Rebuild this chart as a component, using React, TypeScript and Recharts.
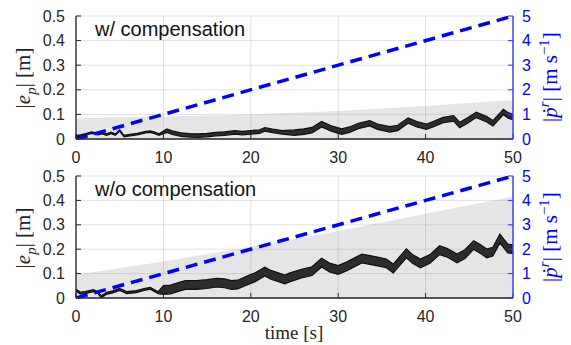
import React from "react";
import { ComposedChart, Area, Line, XAxis, YAxis, CartesianGrid } from "recharts";

// error |e_p| with compensation
const topTimes = [0, 0.5, 1, 1.8, 2.5, 3, 3.5, 4, 4.5, 5, 5.5, 6, 7, 8, 8.5, 9, 9.5, 10.4, 11, 12, 13, 14, 15, 16, 17, 18.2, 19, 20, 21, 21.6, 22.5, 23.6, 25, 26.1, 27, 28.1, 29.2, 30.4, 31.3, 32.3, 33.6, 34.5, 35.9, 36.8, 38, 39, 40.1, 41, 42, 43.2, 43.9, 44.8, 45.8, 47, 47.7, 48.9, 49.5, 50];
const topError = [0.012, 0.014, 0.018, 0.026, 0.02, 0.024, 0.018, 0.025, 0.018, 0.034, 0.012, 0.015, 0.02, 0.028, 0.03, 0.025, 0.018, 0.034, 0.026, 0.018, 0.015, 0.014, 0.016, 0.02, 0.022, 0.027, 0.024, 0.027, 0.03, 0.039, 0.033, 0.027, 0.026, 0.03, 0.036, 0.06, 0.043, 0.03, 0.038, 0.053, 0.064, 0.05, 0.039, 0.045, 0.075, 0.06, 0.05, 0.062, 0.077, 0.084, 0.057, 0.075, 0.098, 0.08, 0.064, 0.11, 0.095, 0.09];
// half thickness of the noisy trace, from each start time on
const topNoiseFrom = [0, 10, 25];
const topNoiseHalf = [0.003, 0.007, 0.011];

// error |e_p| without compensation
const botTimes = [0, 0.5, 1, 2, 2.5, 2.9, 3.5, 4.2, 5, 5.8, 6.9, 7.8, 8.5, 9.4, 10, 10.8, 12, 12.5, 13.8, 15, 16.1, 17, 17.8, 18.5, 19.7, 20.5, 21.6, 22.3, 23.9, 24.5, 25.8, 27, 28.1, 29, 30, 31, 32.7, 33.3, 34.5, 35.5, 36.3, 37, 37.8, 38.5, 39.4, 40.5, 41.6, 42.5, 43.6, 44.5, 45.5, 46.3, 47, 47.7, 48.5, 49.4, 50];
const botError = [0.033, 0.02, 0.022, 0.03, 0.022, 0.005, 0.019, 0.025, 0.035, 0.022, 0.026, 0.035, 0.04, 0.022, 0.033, 0.035, 0.048, 0.053, 0.053, 0.057, 0.063, 0.06, 0.053, 0.055, 0.074, 0.085, 0.108, 0.095, 0.076, 0.085, 0.1, 0.11, 0.145, 0.125, 0.115, 0.13, 0.162, 0.158, 0.15, 0.142, 0.121, 0.15, 0.183, 0.16, 0.142, 0.16, 0.196, 0.185, 0.162, 0.18, 0.217, 0.2, 0.183, 0.19, 0.244, 0.203, 0.2];
const botNoiseFrom = [0, 9.5];
const botNoiseHalf = [0.004, 0.018];

// grey bound
const boundTimes = [0, 10, 20, 30, 40, 50];
const topBound = [0.084, 0.091, 0.1, 0.114, 0.134, 0.158];
const botBound = [0.095, 0.15, 0.21, 0.275, 0.345, 0.415];

// reference speed |p_r dot|
const velTimes = [0, 50];
const velValues = [0, 5];

const xTicks = [0, 10, 20, 30, 40, 50];
const leftTicks = [0, 0.1, 0.2, 0.3, 0.4, 0.5];
const rightTicks = [0, 1, 2, 3, 4, 5];

function buildRows(times: number[], err: number[], noiseFrom: number[], noiseHalf: number[], bound: number[]) {
  const rows = new Map<number, any>();
  const get = (t: number) => {
    if (!rows.has(t)) rows.set(t, { t });
    return rows.get(t);
  };
  times.forEach((t, i) => {
    let h = noiseHalf[0];
    noiseFrom.forEach((f, j) => {
      if (t >= f) h = noiseHalf[j];
    });
    get(t).err = [Math.max(0, err[i] - h), err[i] + h];
  });
  boundTimes.forEach((t, i) => (get(t).bound = bound[i]));
  velTimes.forEach((t, i) => (get(t).vel = velValues[i]));
  return [...rows.values()].sort((a, b) => a.t - b.t);
}

const topRows = buildRows(topTimes, topError, topNoiseFrom, topNoiseHalf, topBound);
const botRows = buildRows(botTimes, botError, botNoiseFrom, botNoiseHalf, botBound);

const sans = '"Liberation Sans", Arial, sans-serif';
const serif = '"Liberation Serif", "Times New Roman", serif';
const tickStyle = { fontSize: 16, fill: "#262626", fontFamily: sans };

function Panel({ rows, height, xHeight }: { rows: any[]; height: number; xHeight: number }) {
  return (
    <ComposedChart width={571} height={height} data={rows} margin={{ top: 16, right: 0, left: 0, bottom: 0 }}>
      <CartesianGrid yAxisId="left" stroke="#000" strokeOpacity={0.12} />
      <XAxis
        dataKey="t"
        type="number"
        domain={[0, 50]}
        ticks={xTicks}
        height={xHeight}
        tick={tickStyle}
        tickSize={-5}
        tickMargin={18}
        tickLine={{ stroke: "#262626" }}
        axisLine={{ stroke: "#262626", strokeWidth: 1.3 }}
        allowDataOverflow
      />
      <YAxis
        yAxisId="left"
        domain={[0, 0.5]}
        ticks={leftTicks}
        width={76}
        tick={tickStyle}
        tickSize={-5}
        tickMargin={16}
        tickFormatter={(v: number) => (v === 0 ? "0" : v.toFixed(1))}
        tickLine={{ stroke: "#262626" }}
        axisLine={{ stroke: "#262626", strokeWidth: 1.3 }}
        allowDataOverflow
      />
      <YAxis
        yAxisId="right"
        orientation="right"
        domain={[0, 5]}
        ticks={rightTicks}
        width={58}
        tick={{ ...tickStyle, fill: "#0000ff" }}
        tickSize={-5}
        tickMargin={14}
        tickLine={{ stroke: "#3333ff" }}
        axisLine={{ stroke: "#4444ff", strokeWidth: 1.5 }}
        allowDataOverflow
      />
      <Area
        yAxisId="left"
        dataKey="bound"
        type="linear"
        fill="#999"
        fillOpacity={0.25}
        stroke="none"
        connectNulls
        isAnimationActive={false}
      />
      <Area
        yAxisId="left"
        dataKey="err"
        type="linear"
        fill="#222"
        fillOpacity={0.95}
        stroke="#111"
        strokeWidth={1.2}
        connectNulls
        isAnimationActive={false}
      />
      <Line
        yAxisId="right"
        dataKey="vel"
        type="linear"
        stroke="#0000ff"
        strokeWidth={3.5}
        strokeDasharray="12 7"
        dot={false}
        connectNulls
        isAnimationActive={false}
      />
    </ComposedChart>
  );
}

function LeftLabel({ cy }: { cy: number }) {
  return (
    <div
      style={{
        position: "absolute",
        left: 26,
        top: cy,
        transform: "translate(-50%, -50%) rotate(-90deg)",
        whiteSpace: "nowrap",
        fontFamily: serif,
        fontSize: 21,
        color: "#262626",
        lineHeight: 1,
      }}
    >
      |<i>e</i>
      <sub style={{ fontSize: 15 }}>
        <i>p</i>
      </sub>
      | [m]
    </div>
  );
}

function RightLabel({ cy }: { cy: number }) {
  return (
    <div
      style={{
        position: "absolute",
        left: 549,
        top: cy,
        transform: "translate(-50%, -50%) rotate(-90deg)",
        whiteSpace: "nowrap",
        fontFamily: serif,
        fontSize: 21,
        color: "#0000ff",
        lineHeight: 1,
      }}
    >
      |<i>ṗ</i>
      <sup style={{ fontSize: 15 }}>
        <i>r</i>
      </sup>
      | [m s<sup style={{ fontSize: 15 }}>−1</sup>]
    </div>
  );
}

function Title({ text, top }: { text: string; top: number }) {
  return (
    <div style={{ position: "absolute", left: 95, top, fontFamily: sans, fontSize: 20, color: "#111", lineHeight: 1 }}>{text}</div>
  );
}

export default function App() {
  return (
    <div style={{ position: "absolute", left: 0, top: 0, width: 571, height: 345, background: "#fff", overflow: "hidden" }}>
      <div style={{ position: "absolute", left: 0, top: 0 }}>
        <Panel rows={topRows} height={175} xHeight={36} />
      </div>
      <div style={{ position: "absolute", left: 0, top: 160 }}>
        <Panel rows={botRows} height={185} xHeight={47} />
      </div>
      <Title text="w/ compensation" top={19} />
      <Title text="w/o compensation" top={179} />
      <LeftLabel cy={78} />
      <RightLabel cy={77} />
      <LeftLabel cy={238} />
      <RightLabel cy={237} />
      <div
        style={{
          position: "absolute",
          left: 294,
          top: 323,
          transform: "translateX(-50%)",
          fontFamily: serif,
          fontSize: 19,
          color: "#262626",
          whiteSpace: "nowrap",
          lineHeight: 1,
        }}
      >
        time [s]
      </div>
    </div>
  );
}
